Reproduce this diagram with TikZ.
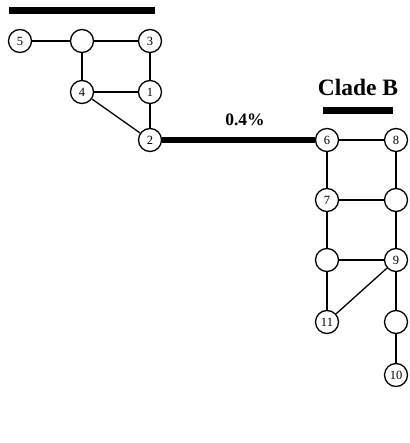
\documentclass[tikz,border=0pt]{standalone}
\usepackage{fontspec}
\setmainfont{Liberation Serif}
\begin{document}
\begin{tikzpicture}[x=1pt,y=-1pt,
  vnode/.style={circle,draw,line width=1.3pt,minimum size=23pt,inner sep=0pt,fill=white,font=\fontsize{12.5}{12.5}\selectfont},
  edge/.style={line width=1.3pt},
  thick edge/.style={line width=5.5pt},
  bar/.style={line width=7pt}]
\useasboundingbox (0,0) rectangle (409,443);
\node[vnode] (n5) at (20,41) {5};
\node[vnode] (t) at (82,41) {};
\node[vnode] (n3) at (150,41) {3};
\node[vnode] (n4) at (82,92) {4};
\node[vnode] (n1) at (150,92) {1};
\node[vnode] (n2) at (150,140) {2};
\node[vnode] (n6) at (327,140) {6};
\node[vnode] (n8) at (396,140) {8};
\node[vnode] (n7) at (327,200) {7};
\node[vnode] (r1) at (396,200) {};
\node[vnode] (l2) at (327,260) {};
\node[vnode] (n9) at (396,260) {9};
\node[vnode] (n11) at (327,322) {11};
\node[vnode] (r3) at (396,322) {};
\node[vnode] (n10) at (396,375) {10};
\coordinate (b1s) at (9,11);
\coordinate (b1e) at (155,11);
\coordinate (b2s) at (323,110.5);
\coordinate (b2e) at (393,110.5);
\draw[bar] (b1s) -- (b1e);
\draw[bar] (b2s) -- (b2e);
\node[font=\fontsize{17.5}{17.5}\selectfont\bfseries] (pct) at (245,120) {0.4\%};
\node[font=\fontsize{23.5}{23.5}\selectfont\bfseries] (clade) at (358,87) {Clade B};
\draw[edge] (n5) -- (t);
\draw[edge] (t) -- (n3);
\draw[edge] (t) -- (n4);
\draw[edge] (n3) -- (n1);
\draw[edge] (n4) -- (n1);
\draw[edge] (n4) -- (n2);
\draw[edge] (n1) -- (n2);
\draw[thick edge] (n2) -- (n6);
\draw[edge] (n6) -- (n8);
\draw[edge] (n6) -- (n7);
\draw[edge] (n8) -- (r1);
\draw[edge] (n7) -- (r1);
\draw[edge] (n7) -- (l2);
\draw[edge] (r1) -- (n9);
\draw[edge] (l2) -- (n9);
\draw[edge] (l2) -- (n11);
\draw[edge] (n11) -- (n9);
\draw[edge] (n9) -- (r3);
\draw[edge] (r3) -- (n10);
\end{tikzpicture}
\end{document}
